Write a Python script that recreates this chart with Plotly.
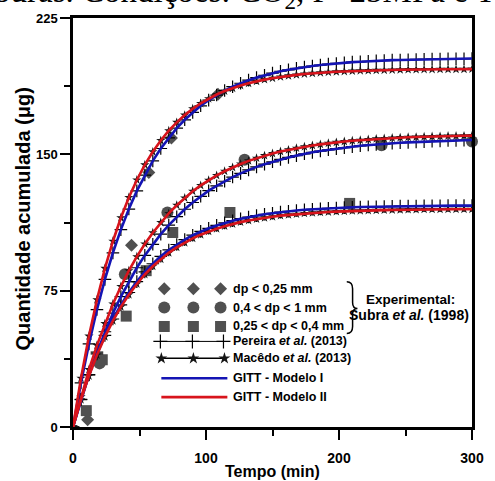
import plotly.graph_objects as go

# Time grid of the model curves (min)
t_min = list(range(0, 301, 6))

# GITT - Modelo I (also Pereira et al. 2013) for each particle size, ug
top_I = [0, 24.3, 45.7, 64.6, 81.2, 95.8, 108.6, 119.9, 129.9, 138.6, 146.4, 153.2, 159.1, 164.4,
         169.0, 173.1, 176.7, 179.8, 182.6, 185.1, 187.2, 189.1, 190.8, 192.2, 193.5, 194.7, 195.7,
         196.5, 197.3, 198.0, 198.6, 199.1, 199.6, 200.0, 200.4, 200.7, 200.9, 201.2, 201.4, 201.6,
         201.8, 201.9, 202.0, 202.2, 202.3, 202.4, 202.4, 202.5, 202.6, 202.6, 202.7]
mid_I = [0, 15.1, 28.8, 41.2, 52.4, 62.6, 71.7, 80.0, 87.6, 94.4, 100.5, 106.1, 111.1, 115.7,
         119.8, 123.5, 126.9, 130.0, 132.7, 135.2, 137.5, 139.5, 141.4, 143.1, 144.6, 145.9, 147.2,
         148.3, 149.3, 150.3, 151.1, 151.8, 152.5, 153.1, 153.7, 154.2, 154.7, 155.1, 155.4, 155.8,
         156.1, 156.4, 156.6, 156.8, 157.0, 157.2, 157.4, 157.6, 157.7, 157.8, 157.9]
bot_I = [0, 15.2, 28.6, 40.2, 50.4, 59.4, 67.2, 74.0, 80.0, 85.3, 89.8, 93.9, 97.4, 100.4,
         103.1, 105.5, 107.6, 109.3, 110.9, 112.3, 113.5, 114.6, 115.5, 116.3, 117.0, 117.6, 118.2,
         118.7, 119.1, 119.5, 119.8, 120.0, 120.3, 120.5, 120.7, 120.9, 121.0, 121.1, 121.2, 121.3,
         121.4, 121.5, 121.5, 121.6, 121.7, 121.7, 121.7, 121.8, 121.8, 121.8, 121.8]

# GITT - Modelo II (also Macêdo et al. 2013), ug
top_II = [0, 26.8, 50.0, 70.0, 87.3, 102.2, 115.1, 126.3, 135.9, 144.2, 151.4, 157.6, 163.0, 167.6,
          171.6, 175.1, 178.0, 180.6, 182.9, 184.8, 186.4, 187.9, 189.1, 190.2, 191.1, 191.9, 192.6,
          193.2, 193.7, 194.2, 194.6, 194.9, 195.2, 195.4, 195.6, 195.8, 196.0, 196.1, 196.2, 196.3,
          196.4, 196.5, 196.6, 196.6, 196.7, 196.7, 196.8, 196.8, 196.8, 196.8, 196.9]
mid_II = [0, 16.6, 31.6, 44.9, 56.9, 67.7, 77.3, 86.0, 93.7, 100.7, 106.9, 112.5, 117.5, 122.0,
          126.0, 129.7, 132.9, 135.8, 138.4, 140.7, 142.8, 144.7, 146.4, 147.9, 149.3, 150.5, 151.6,
          152.5, 153.4, 154.2, 154.9, 155.5, 156.1, 156.6, 157.1, 157.5, 157.8, 158.2, 158.5, 158.7,
          159.0, 159.2, 159.4, 159.5, 159.7, 159.8, 159.9, 160.1, 160.1, 160.2, 160.3]
bot_II = [0, 15.0, 28.1, 39.6, 49.6, 58.4, 66.1, 72.8, 78.7, 83.9, 88.4, 92.3, 95.8, 98.8,
          101.4, 103.8, 105.8, 107.6, 109.1, 110.5, 111.7, 112.7, 113.6, 114.4, 115.1, 115.7, 116.3,
          116.7, 117.1, 117.5, 117.8, 118.1, 118.3, 118.5, 118.7, 118.9, 119.0, 119.1, 119.2, 119.3,
          119.4, 119.5, 119.6, 119.6, 119.7, 119.7, 119.7, 119.8, 119.8, 119.8, 119.8]

# Experimental data, Subra et al. (1998)
exp_d_t = [11, 44, 57, 74, 109]            # dp < 0,25 mm
exp_d_q = [4, 100, 140, 159, 183]
exp_c_t = [20, 39, 71, 129, 232, 300]      # 0,4 < dp < 1 mm
exp_c_q = [35, 84, 118, 147, 155, 157]
exp_s_t = [10, 22, 40, 55, 75, 118, 208]   # 0,25 < dp < 0,4 mm
exp_s_q = [9, 37, 61, 86, 107, 118, 123]

SANS = "Liberation Sans, Arial, sans-serif"
SERIF = "Liberation Serif, Times New Roman, serif"
GRAY = "#505050"
BLUE = "#1414b4"
RED = "#d8141c"

# plot frame in page pixels: used to place text outside the axes in paper units
X0, X1, Y0, Y1 = 73, 484, 427, 16


def px(x):
    return (x - X0) / (X1 - X0)


def py(y):
    return (Y0 - y) / (Y0 - Y1)


fig = go.Figure()

# experimental points
for tt, qq, sym, sz in [(exp_d_t, exp_d_q, "diamond", 10),
                        (exp_c_t, exp_c_q, "circle", 12),
                        (exp_s_t, exp_s_q, "square", 11)]:
    fig.add_trace(go.Scatter(x=tt, y=qq, mode="markers", cliponaxis=False,
                             marker=dict(symbol=sym, size=sz, color=GRAY, line=dict(width=0))))

# Pereira et al. (2013)
for q in (top_I, mid_I, bot_I):
    fig.add_trace(go.Scatter(x=t_min, y=q, mode="lines+markers",
                             line=dict(color="black", width=1),
                             marker=dict(symbol="cross-thin", size=9, color="black",
                                         line=dict(width=1.2, color="black"))))
# Macêdo et al. (2013)
for q in (top_II, mid_II, bot_II):
    fig.add_trace(go.Scatter(x=t_min, y=q, mode="lines+markers",
                             line=dict(color="black", width=1.2),
                             marker=dict(symbol="star", size=7, color="#151515", line=dict(width=0))))
# GITT models
for q in (top_I, mid_I, bot_I):
    fig.add_trace(go.Scatter(x=t_min, y=q, mode="lines", line=dict(color=BLUE, width=2.6)))
for q in (top_II, mid_II, bot_II):
    fig.add_trace(go.Scatter(x=t_min, y=q, mode="lines", line=dict(color=RED, width=2.6)))

# ---- key drawn on a pixel-scaled overlay axis ----
kx = [167, 197, 225]
ky = [288, 307, 326, 341, 358, 378, 397]
for sym, sz, yy in [("diamond", 10, ky[0]), ("circle", 12, ky[1]), ("square", 11, ky[2])]:
    fig.add_trace(go.Scatter(x=kx, y=[yy] * 3, xaxis="x2", yaxis="y2", mode="markers",
                             marker=dict(symbol=sym, size=sz, color=GRAY, line=dict(width=0))))
fig.add_trace(go.Scatter(x=[163, 196, 228], y=[ky[3]] * 3, xaxis="x2", yaxis="y2",
                         mode="lines+markers", line=dict(color="black", width=1),
                         marker=dict(symbol="cross-thin", size=10, color="black",
                                     line=dict(width=1.2, color="black"))))
fig.add_trace(go.Scatter(x=[164, 197, 229], y=[ky[4]] * 3, xaxis="x2", yaxis="y2",
                         mode="lines+markers", line=dict(color="black", width=1.5),
                         marker=dict(symbol="star", size=9, color="#151515", line=dict(width=0))))
fig.add_trace(go.Scatter(x=[164, 232], y=[ky[5]] * 2, xaxis="x2", yaxis="y2", mode="lines",
                         line=dict(color=BLUE, width=2.6)))
fig.add_trace(go.Scatter(x=[164, 232], y=[ky[6]] * 2, xaxis="x2", yaxis="y2", mode="lines",
                         line=dict(color=RED, width=2.6)))

key_labels = ["dp < 0,25 mm", "0,4 < dp < 1 mm", "0,25 < dp < 0,4 mm",
              "Pereira <i>et al.</i> (2013)", "Macêdo <i>et al.</i> (2013)",
              "GITT - Modelo I", "GITT - Modelo II"]
ann = []
for lab, yy in zip(key_labels, ky):
    ann.append(dict(x=236, y=yy, xref="x2", yref="y2", text=lab, showarrow=False,
                    xanchor="left", yanchor="middle",
                    font=dict(family=SANS, size=12.5, color="black", weight="bold")))
ann.append(dict(x=421, y=299, xref="x2", yref="y2", text="Experimental:", showarrow=False,
                xanchor="center", yanchor="middle",
                font=dict(family=SANS, size=13.5, color="black", weight="bold")))
ann.append(dict(x=419, y=314, xref="x2", yref="y2", text="Subra <i>et al.</i> (1998)",
                showarrow=False, xanchor="center", yanchor="middle",
                font=dict(family=SANS, size=14, color="black", weight="bold")))

# axis titles
ann.append(dict(x=0.5, y=py(472), xref="paper", yref="paper", text="Tempo (min)",
                xanchor="center", yanchor="middle", showarrow=False,
                font=dict(family=SANS, size=16, color="black", weight="bold")))
ann.append(dict(x=px(22), y=py(218), xref="paper", yref="paper",
                text="Quantidade acumulada (μg)", textangle=-90, showarrow=False,
                xanchor="center", yanchor="middle",
                font=dict(family=SANS, size=20, color="black", weight="bold")))

# caption line running above the frame
ann.append(dict(x=px(-10), y=py(-9), xref="paper", yref="paper", xanchor="left",
                yanchor="middle", text="ouras. Condições: CO<sub>2</sub>, P=25MPa e T=3",
                showarrow=False, font=dict(family=SERIF, size=33, color="black")))

brace = ("M 355 281 Q 361 281 361 288 L 361 302 Q 361 308 366 308 "
         "Q 361 308 361 314 L 361 326 Q 361 333 355 333")

tick_font = dict(family=SANS, size=13, color="black", weight="bold")
axis_common = dict(ticks="outside", ticklen=10, tickwidth=2, tickcolor="black",
                   showline=True, linewidth=2.5, linecolor="black", mirror=True,
                   showgrid=False, zeroline=False, tickfont=tick_font)

fig.update_layout(
    width=495, height=481,
    margin=dict(l=73, r=11, t=16, b=54),
    paper_bgcolor="white", plot_bgcolor="white",
    showlegend=False,
    xaxis=dict(range=[0, 300], dtick=100, tick0=0,
               minor=dict(dtick=50, ticks="outside", ticklen=6, tickwidth=2, tickcolor="black"),
               ticklabelstandoff=6, **{**axis_common, "tickfont": dict(tick_font, size=14)}),
    yaxis=dict(range=[0, 225], dtick=75, tick0=0,
               minor=dict(dtick=37.5, ticks="outside", ticklen=6, tickwidth=2, tickcolor="black"),
               **axis_common),
    xaxis2=dict(overlaying="x", anchor="y2", range=[73, 484], visible=False),
    yaxis2=dict(overlaying="y", anchor="x2", range=[427, 16], visible=False),
    annotations=ann,
    shapes=[dict(type="path", path=brace, xref="x2", yref="y2",
                 line=dict(color="black", width=1.5))],
)

fig.write_html("out.html")
